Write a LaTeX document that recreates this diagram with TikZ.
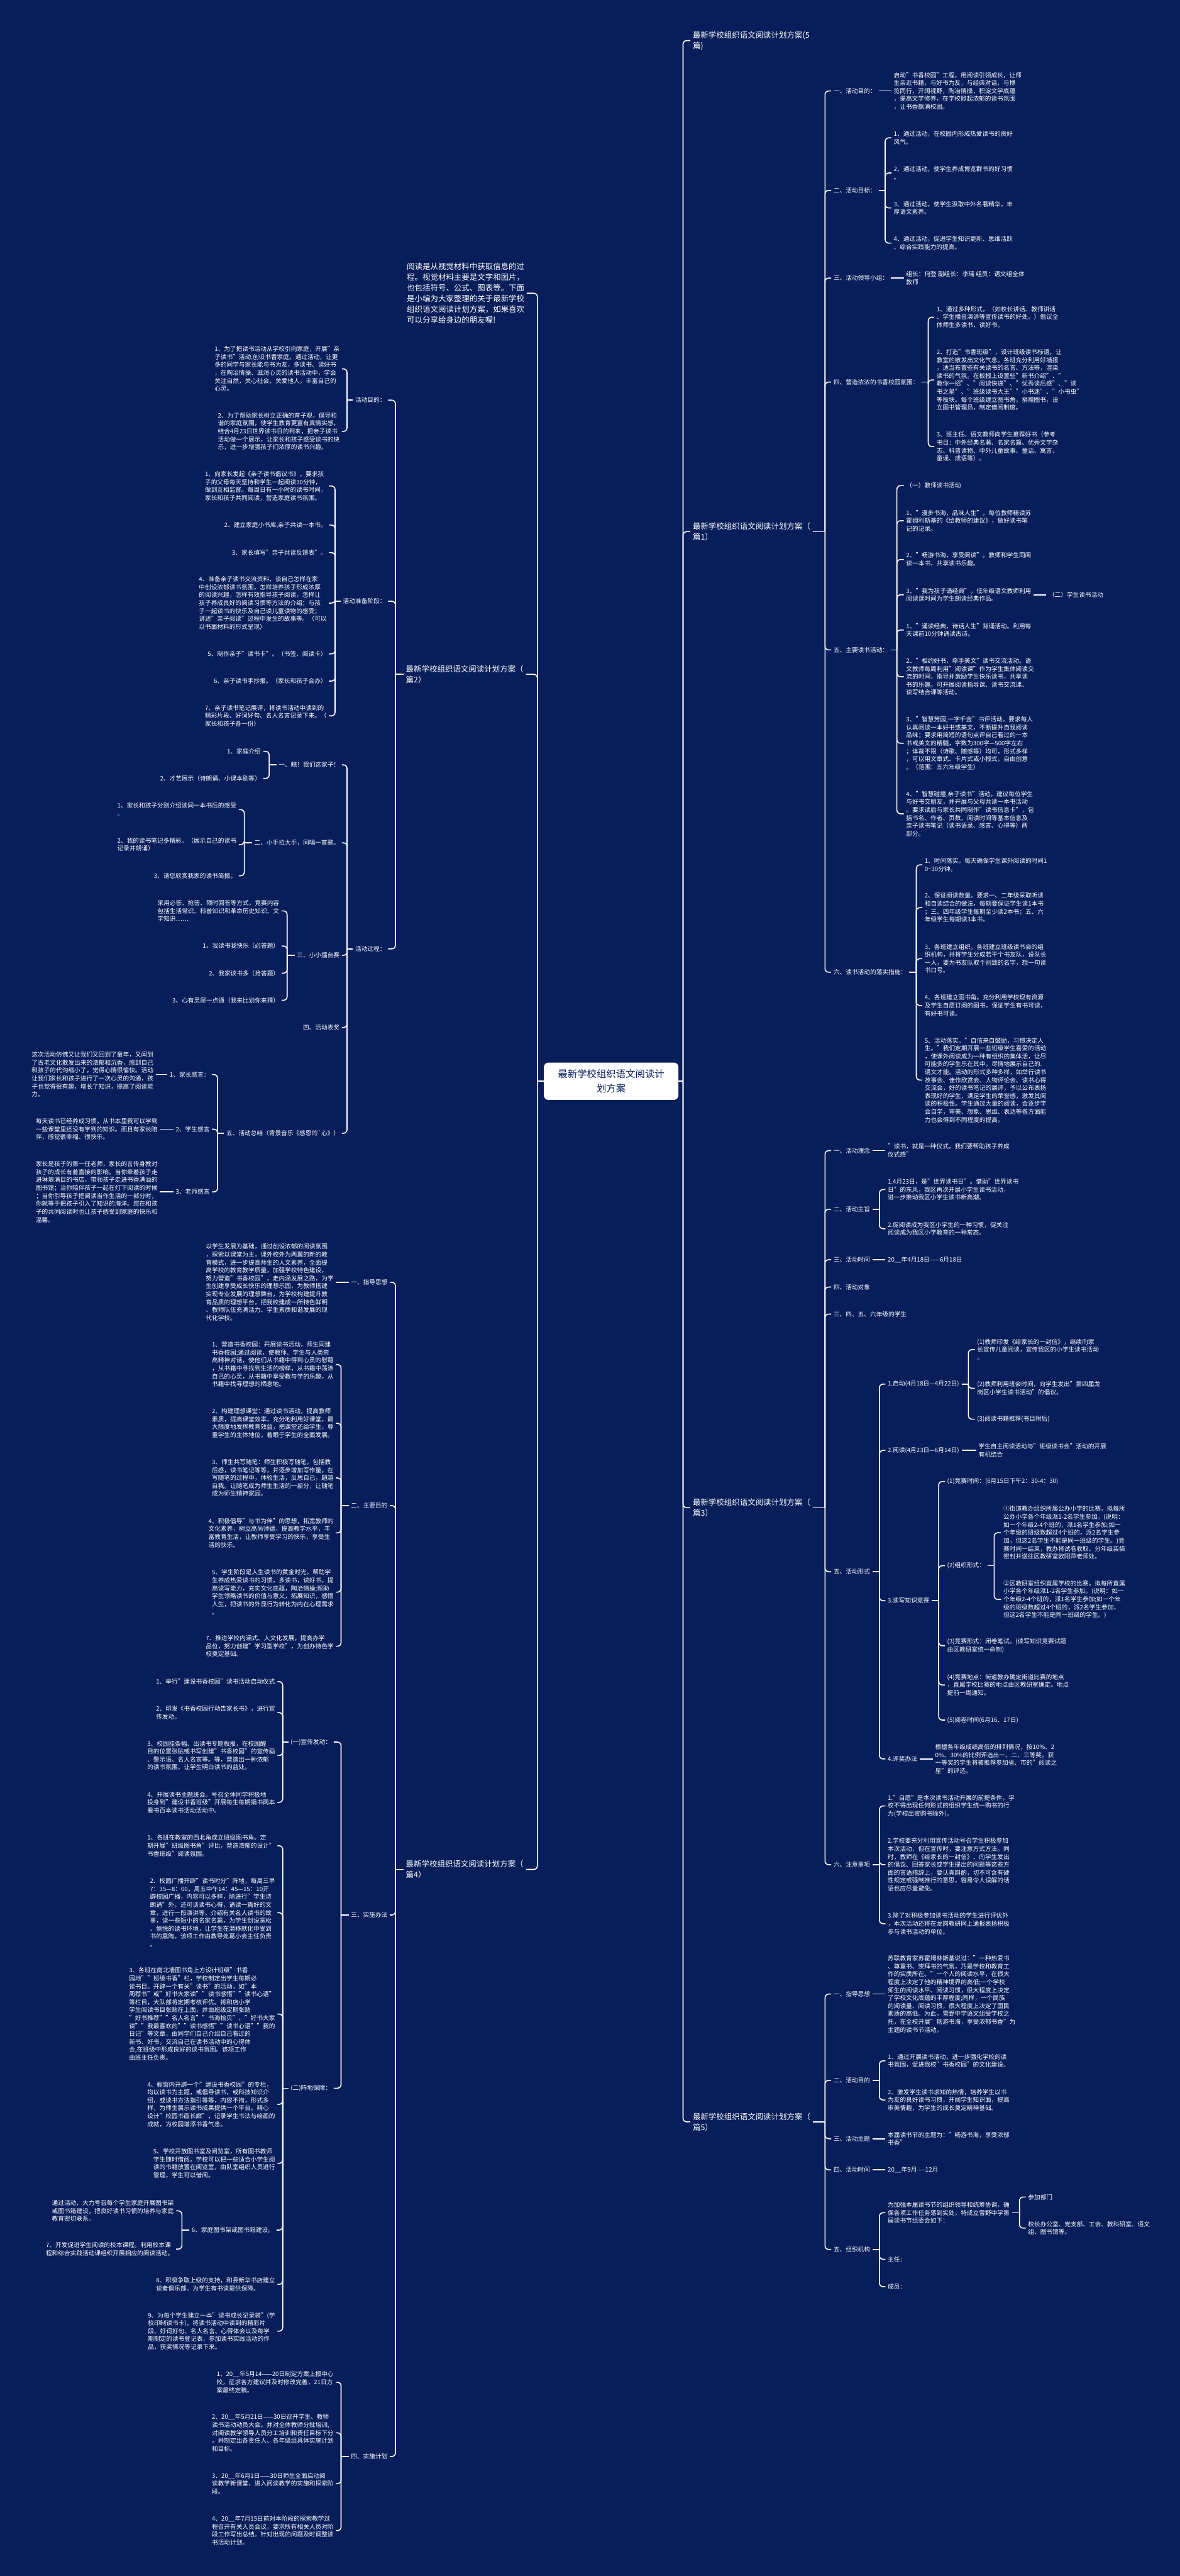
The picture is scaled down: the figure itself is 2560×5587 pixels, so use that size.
\documentclass[tikz,border=0pt]{standalone}
\usepackage{fontspec}
\setmainfont{Noto Sans CJK SC}
\definecolor{bg}{RGB}{8,30,90}
\tikzset{
  conn/.style={draw=white,line width=2.2pt,rounded corners=8pt},
  leafbase/.style={text=white,font=\fontsize{13.2}{17.2}\selectfont,align=left,inner xsep=5pt,inner ysep=2pt},
  rnode/.style={leafbase,anchor=west},
  lnode/.style={leafbase,anchor=east},
  rtitle/.style={rnode,font=\fontsize{17}{23}\selectfont},
  ltitle/.style={lnode,font=\fontsize{17}{23}\selectfont},
  rootbox/.style={fill=white,text=bg,rounded corners=10pt,minimum width=292pt,minimum height=81pt,align=center,font=\fontsize{21}{31}\selectfont,inner sep=0pt},
}
\newcommand{\myrc}[3]{\draw[conn] (#1.east) -- (#1.east -| #3);\draw[conn] (#1.east -| #3) |- (#2.west);}
\newcommand{\mylc}[3]{\draw[conn] (#1.west) -- (#1.west -| #3);\draw[conn] (#1.west -| #3) |- (#2.east);}
\newcommand{\mysr}[2]{\draw[conn] (#1.east) -- (#2.west);}
\newcommand{\mysl}[2]{\draw[conn] (#1.west) -- (#2.east);}
\begin{document}
\begin{tikzpicture}[x=1pt,y=-1pt]
\useasboundingbox (0,0) rectangle (2560,5587);
\fill[bg] (0,0) rectangle (2560,5587);
% bars
\coordinate (xbR) at (1482,0);
\coordinate (xbL) at (1166,0);
\coordinate (xbP) at (1790,0);
\coordinate (xb12) at (1920.5,0);
\coordinate (xb14) at (2014,0);
\coordinate (xb15) at (1946,0);
\coordinate (xb16) at (1988,0);
\coordinate (xb3a) at (1908,0);
\coordinate (xb351) at (2101,0);
\coordinate (xb353) at (2036.6,0);
\coordinate (xb3532) at (2157,0);
\coordinate (xb5a) at (2212,0);
\coordinate (xbL2) at (858,0);
\coordinate (xbb1) at (753,0);
\coordinate (xbb2) at (727,0);
\coordinate (xbb31) at (584,0);
\coordinate (xbb32) at (530,0);
\coordinate (xbb33) at (623,0);
\coordinate (xbb35) at (472,0);
\coordinate (xbd) at (740,0);
\coordinate (xbd3) at (613.4,0);
\coordinate (xbd6) at (394.7,0);

% root
\node[rootbox] (root) at (1326,2345) {最新学校组织语文阅读计\\划方案};

% ===== right side titles
\node[rtitle] (t0) at (1498,88) {最新学校组织语文阅读计划方案(5\\篇)};
\node[rtitle] (p1) at (1498,1153) {最新学校组织语文阅读计划方案（\\篇1）};
\node[rtitle] (p3) at (1498,3270) {最新学校组织语文阅读计划方案（\\篇3）};
\node[rtitle] (p5) at (1498,4602) {最新学校组织语文阅读计划方案（\\篇5）};

% ===== 篇1
\node[rnode] (a1) at (1803.5,197.3) {一、活动目的：};
\node[rnode] (a1x) at (1934,197.3) {启动"书香校园"工程，用阅读引领成长，让师\\生亲近书籍，与好书为友，与经典对话，与博\\览同行，开阔视野，陶冶情操，积淀文学底蕴\\，提高文学修养，在学校掀起浓郁的读书氛围\\，让书香飘满校园。};
\node[rnode] (a2) at (1803.5,412.9) {二、活动目标：};
\node[rnode] (a2a) at (1934,298.9) {1、通过活动，在校园内形成热爱读书的良好\\风气。};
\node[rnode] (a2b) at (1934,375.1) {2、通过活动，使学生养成博览群书的好习惯\\。};
\node[rnode] (a2c) at (1934,451) {3、通过活动，使学生汲取中外名著精华，丰\\厚语文素养。};
\node[rnode] (a2d) at (1934,527.3) {4、通过活动，促进学生知识更新、思维活跃\\、综合实践能力的提高。};
\node[rnode] (a3) at (1803.5,603) {三、活动领导小组：};
\node[rnode] (a3x) at (1961,603) {组长：何登 副组长：李瑶 组员：语文组全体\\教师};
\node[rnode] (a4) at (1803.5,828.7) {四、营造浓浓的书香校园氛围：};
\node[rnode] (a4a) at (2027,687.9) {1、通过多种形式，（如校长讲话、教师讲话\\、学生播音演讲等宣传读书的好处。）倡议全\\体师生多读书，读好书。};
\node[rnode] (a4b) at (2027,824) {2、打造"书香班级"，设计班级读书标语，让\\教室的散发出文化气息。各班充分利用好墙报\\，适当布置些有关读书的名言、方法等，渲染\\读书的气氛。在板报上设置些"新书介绍"、"\\教你一招"、"阅读快递"、"优秀读后感"、"读\\书之星"、"班级读书大王""小书迷"、"小书虫"\\等板块。每个班级建立图书角，捐赠图书，设\\立图书管理员，制定借阅制度。};
\node[rnode] (a4c) at (2027,968.5) {3、班主任、语文教师向学生推荐好书（参考\\书目：中外经典名著、名家名篇、优秀文学杂\\志、科普读物、中外儿童故事、童话、寓言、\\童谣、成语等）。};
\node[rnode] (a5) at (1803.5,1409.6) {五、主要读书活动：};
\node[rnode] (a5a) at (1961,1053.2) {（一）教师读书活动};
\node[rnode] (a5b) at (1961,1129.4) {1、"漫步书海，品味人生"。每位教师精读苏\\霍姆利斯基的《给教师的建议》，做好读书笔\\记的记录。};
\node[rnode] (a5c) at (1961,1213.4) {2、"畅游书海，享受阅读"。教师和学生同阅\\读一本书，共享读书乐趣。};
\node[rnode] (a5d) at (1961,1290) {3、"我为孩子诵经典"。低年级语文教师利用\\阅读课时间为学生朗读经典作品。};
\node[rnode] (a5dx) at (2270,1290) {（二）学生读书活动};
\node[rnode] (a5e) at (1961,1366.4) {1、"诵读经典，诗话人生"背诵活动。利用每\\天课前10分钟诵读古诗。};
\node[rnode] (a5f) at (1961,1467.6) {2、"相约好书，牵手美文"读书交流活动。语\\文教师每周利用"阅读课"作为学生集体阅读交\\流的时间，指导并激励学生快乐读书，共享读\\书的乐趣。可开展阅读指导课、读书交流课、\\读写结合课等活动。};
\node[rnode] (a5g) at (1961,1612) {3、"智慧芳园,一字千金"书评活动。要求每人\\认真阅读一本好书或美文，不断提升自我阅读\\品味；要求用简短的语句点评自己看过的一本\\书或美文的精髓，字数为300字—500字左右\\；体裁不限（诗歌、随感等）均可，形式多样\\，可以用文章式、卡片式或小报式，自由创意\\。（范围：五六年级学生）};
\node[rnode] (a5h) at (1961,1765) {4、"智慧碰撞,亲子读书"活动。建议每位学生\\与好书交朋友，并开展与父母共读一本书活动\\。要求读后与家长共同制作"读书信息卡"，包\\括书名、作者、页数、阅读时间等基本信息及\\亲子读书笔记（读书语录、感言、心得等）两\\部分。};
\node[rnode] (a6) at (1803.5,2108.6) {六、读书活动的落实措施：};
\node[rnode] (a6a) at (2001,1875.7) {1、时间落实。每天确保学生课外阅读的时间1\\0\textasciitilde{}30分钟。};
\node[rnode] (a6b) at (2001,1968.5) {2、保证阅读数量。要求一、二年级采取听读\\和自读结合的做法，每期要保证学生读1本书\\；三、四年级学生每期至少读2本书；五、六\\年级学生每期读3本书。};
\node[rnode] (a6c) at (2001,2079.2) {3、各班建立组织。各班建立班级读书会的组\\织机构，并将学生分成若干个书友队，设队长\\一人，要为书友队取个别致的名字，想一句读\\书口号。};
\node[rnode] (a6d) at (2001,2180.8) {4、各班建立图书角。充分利用学校现有资源\\及学生自愿订阅的图书，保证学生有书可读，\\有好书可读。};
\node[rnode] (a6e) at (2001,2342.5) {5、活动落实。"自信来自鼓励，习惯决定人\\生。"我们定期开展一些班级学生喜爱的活动\\，使课外阅读成为一种有组织的集体活，让尽\\可能多的学生乐在其中，尽情地展示自己的.\\语文才能。活动的形式多种多样，如举行读书\\故事会、佳作欣赏会、人物评论会、读书心得\\交流会，好的读书笔记的展评，予以公布表扬\\表现好的学生，满足学生的荣誉感，激发其阅\\读的积极性。学生通过大量的阅读，会逐步学\\会自学，审美、想象、思维、表达等各方面能\\力也会得到不同程度的提高。};

% ===== 篇3
\node[rnode] (c1) at (1803.5,2495.4) {一、活动理念};
\node[rnode] (c1x) at (1921,2495.4) {"读书，就是一种仪式，我们要帮助孩子养成\\仪式感"};
\node[rnode] (c2) at (1803.5,2622.7) {二、活动主旨};
\node[rnode] (c2a) at (1921,2579.8) {1.4月23日，是"世界读书日"。借助"世界读书\\日"的东风，我区再次开展小学生读书活动，\\进一步推动我区小学生读书新高潮。};
\node[rnode] (c2b) at (1921,2664.9) {2.促阅读成为我区小学生的一种习惯，促关注\\阅读成为我区小学教育的一种常态。};
\node[rnode] (c3) at (1803.5,2732) {三、活动时间};
\node[rnode] (c3x) at (1921,2732) {20\_\_年4月18日——6月18日};
\node[rnode] (c4) at (1803.5,2791.4) {四、活动对象};
\node[rnode] (c4b) at (1803.5,2850) {三、四、五、六年级的学生};
\node[rnode] (c5) at (1803.5,3408.9) {五、活动形式};
\node[rnode] (c51) at (1921,3001.9) {1.启动(4月18日—4月22日)};
\node[rnode] (c51a) at (2115,2927) {(1)教师印发《给家长的一封信》，继续向家\\长宣传儿童阅读，宣传我区的小学生读书活动\\。};
\node[rnode] (c51b) at (2115,3011) {(2)教师利用班会时间，向学生发出"第四届龙\\岗区小学生读书活动"的倡议。};
\node[rnode] (c51c) at (2115,3078.1) {(3)阅读书籍推荐(书目附后)};
\node[rnode] (c52) at (1921,3145.6) {2.阅读(4月23日—6月14日)};
\node[rnode] (c52x) at (2118,3145.6) {学生自主阅读活动与"班级读书会"活动的开展\\有机结合};
\node[rnode] (c53) at (1921,3471.7) {3.读写知识竞赛};
\node[rnode] (c53a) at (2050,3213) {(1)竞赛时间：(6月15日下午2：30-4：30)};
\node[rnode] (c53b) at (2050,3395.7) {(2)组织形式：};
\node[rnode] (c53b1) at (2172,3324.2) {①街道教办组织所属公办小学的比赛。拟每所\\公办小学各个年级派1-2名学生参加。(说明：\\如一个年级2-4个班的，派1名学生参加;如一\\个年级的班级数超过4个班的，派2名学生参\\加，但这2名学生不能是同一班级的学生。)竞\\赛时间一结束，教办将试卷收取、分年级装袋\\密封并送往区教研室欧阳萍老师处。};
\node[rnode] (c53b2) at (2172,3469) {②区教研室组织直属学校的比赛。拟每所直属\\小学各个年级派1-2名学生参加。(说明：如一\\个年级2-4个班的，派1名学生参加;如一个年\\级的班级数超过4个班的，派2名学生参加，\\但这2名学生不能是同一班级的学生。)};
\node[rnode] (c53c) at (2050,3569.3) {(3)竞赛形式：闭卷笔试。(读写知识竞赛试题\\由区教研室统一命制)};
\node[rnode] (c53d) at (2050,3654.5) {(4)竞赛地点：街道教办确定街道比赛的地点\\，直属学校比赛的地点由区教研室确定。地点\\提前一周通知。};
\node[rnode] (c53e) at (2050,3730.6) {(5)阅卷时间(6月16、17日)};
\node[rnode] (c54) at (1921,3815) {4.评奖办法};
\node[rnode] (c54x) at (2024,3815) {根据各年级成绩高低的排列情况，按10\%、2\\0\%、30\%的比例评选出一、二、三等奖。获\\一等奖的学生将被推荐参加省、市的"阅读之\\星"的评选。};
\node[rnode] (c6) at (1803.5,4044.2) {六、注意事项};
\node[rnode] (c6a) at (1921,3916.9) {1."自愿"是本次读书活动开展的前提条件，学\\校不得出现任何形式的组织学生统一购书的行\\为(学校出资购书除外)。};
\node[rnode] (c6b) at (1921,4044.2) {2.学校要充分利用宣传活动号召学生积极参加\\本次活动，但在宣传时，要注意方式方法。同\\时，教师在《给家长的一封信》、向学生发出\\的倡议、回答家长或学生提出的问题等这些方\\面的言语措辞上，要认真斟酌，切不可含有硬\\性规定或强制推行的意思，容易令人误解的话\\语也应尽量避免。};
\node[rnode] (c6c) at (1921,4172.2) {3.除了对积极参加读书活动的学生进行评优外\\，本次活动还将在龙岗教研网上通报表扬积极\\参与读书活动的单位。};

% ===== 篇5
\node[rnode] (e1) at (1803.5,4324.8) {一、指导思想};
\node[rnode] (e1x) at (1921,4324.8) {苏联教育家苏霍姆林斯基说过："一种热爱书\\、尊重书、崇拜书的气氛，乃是学校和教育工\\作的实质所在。"一个人的阅读水平，在很大\\程度上决定了他的精神境界的高低;一个学校\\师生的阅读水平、阅读习惯，很大程度上决定\\了学校文化底蕴的丰厚程度;同样，一个民族\\的阅读量、阅读习惯，很大程度上决定了国民\\素质的高低。为此，雪野中学语文组受学校之\\托，在全校开展"畅游书海，享受浓郁书香"为\\主题的读书节活动。};
\node[rnode] (e2) at (1803.5,4512) {二、活动目的};
\node[rnode] (e2a) at (1921,4469.6) {1、通过开展读书活动，进一步强化学校的读\\书氛围，促进我校"书香校园"的文化建设。};
\node[rnode] (e2b) at (1921,4554.6) {2、激发学生读书求知的热情，培养学生以书\\为友的良好读书习惯，开阔学生知识面，提高\\审美情趣，为学生的成长奠定精神基础。};
\node[rnode] (e3) at (1803.5,4638.6) {三、活动主题};
\node[rnode] (e3x) at (1921,4638.6) {本届读书节的主题为："畅游书海，享受浓郁\\书香"};
\node[rnode] (e4) at (1803.5,4706) {四、活动时间};
\node[rnode] (e4x) at (1921,4706) {20\_\_年9月-{}-{}-{}-12月};
\node[rnode] (e5) at (1803.5,4878.7) {五、组织机构};
\node[rnode] (e5a) at (1921,4799) {为加强本届读书节的组织领导和统筹协调，确\\保各项工作任务落到实处，特成立雪野中学第\\届读书节组委会如下：};
\node[rnode] (e5a1) at (2225.5,4765) {参加部门};
\node[rnode] (e5a2) at (2225.5,4832.4) {校长办公室、党支部、工会、教科研室、语文\\组、图书馆等。};
\node[rnode] (e5b) at (1921,4900) {主任：};
\node[rnode] (e5c) at (1921,4959.4) {成员：};

% ===== left side
\node[ltitle] (intro) at (1143,636) {阅读是从视觉材料中获取信息的过\\程。视觉材料主要是文字和图片，\\也包括符号、公式、图表等。下面\\是小编为大家整理的关于最新学校\\组织语文阅读计划方案，如果喜欢\\可以分享给身边的朋友喔!};
\node[ltitle] (p2) at (1141,1462.4) {最新学校组织语文阅读计划方案（\\篇2）};
\node[ltitle] (p4) at (1141,4054.5) {最新学校组织语文阅读计划方案（\\篇4）};

% 篇2
\node[lnode] (b1) at (842,867.8) {活动目的：};
\node[lnode] (b1a) at (742,800) {1、为了把读书活动从学校引向家庭，开展"亲\\子读书"活动,创设书香家庭。通过活动，让更\\多的同学与家长能与书为友，多读书、读好书\\，在陶冶情操、滋润心灵的读书活动中，学会\\关注自然，关心社会，关爱他人，丰富自己的\\心灵。};
\node[lnode] (b1b) at (742,935.6) {2、为了帮助家长树立正确的育子观，倡导和\\谐的家庭氛围，使学生教育更富有真情实感，\\结合4月23日世界读书日的到来，把亲子读书\\活动做一个展示，让家长和孩子感受读书的快\\乐，进一步增强孩子们浓厚的读书兴趣。};
\node[lnode] (b2) at (842,1304) {活动准备阶段：};
\node[lnode] (b2a) at (714,1054) {1、向家长发起《亲子读书倡议书》，要求孩\\子的父母每天坚持和学生一起阅读30分钟，\\做到互相监督。每周日有一小时的读书时间，\\家长和孩子共同阅读，营造家庭读书氛围。};
\node[lnode] (b2b) at (714,1138.8) {2、建立家庭小书库,亲子共读一本书。};
\node[lnode] (b2c) at (714,1198.5) {3、家长填写"亲子共读反馈表"。};
\node[lnode] (b2d) at (714,1308) {4、准备亲子读书交流资料，谈自己怎样在家\\中创设浓郁读书氛围，怎样培养孩子形成浓厚\\的阅读兴趣，怎样有效指导孩子阅读，怎样让\\孩子养成良好的阅读习惯等方法的介绍；与孩\\子一起读书的快乐及自己读儿童读物的感受；\\讲述"亲子阅读"过程中发生的故事等。（可以\\以书面材料的形式呈现）};
\node[lnode] (b2e) at (714,1418.2) {5、制作亲子"读书卡"。（书签、阅读卡）};
\node[lnode] (b2f) at (714,1477.2) {6、亲子读书手抄报。（家长和孩子合办）};
\node[lnode] (b2g) at (714,1552.6) {7、亲子读书笔记展评，将读书活动中读到的\\精彩片段、好词好句、名人名言记录下来。（\\家长和孩子各一份）};
\node[lnode] (b3) at (842,2058) {活动过程：};
\node[lnode] (b31) at (742,1658.9) {一、瞧！我们这家子！};
\node[lnode] (b31a) at (571,1629.4) {1、家庭介绍};
\node[lnode] (b31b) at (571,1688.3) {2、才艺展示（诗朗诵、小课本剧等）};
\node[lnode] (b32) at (742,1827.9) {二、小手拉大手，同唱一首歌。};
\node[lnode] (b32a) at (518,1756) {1、家长和孩子分别介绍读同一本书后的感受\\。};
\node[lnode] (b32b) at (518,1831.8) {2、我的读书笔记多精彩。（展示自己的读书\\记录并朗诵）};
\node[lnode] (b32c) at (518,1899.5) {3、请您欣赏我家的读书简报。};
\node[lnode] (b33) at (742,2072) {三、小小擂台赛};
\node[lnode] (b33a) at (611,1975.6) {采用必答、抢答、限时回答等方式，竞赛内容\\包括生活常识、科普知识和革命历史知识、文\\学知识……};
\node[lnode] (b33b) at (611,2051.7) {1、我读书我快乐（必答题）};
\node[lnode] (b33c) at (611,2110.6) {2、我家读书多（抢答题）};
\node[lnode] (b33d) at (611,2169.5) {3、心有灵犀一点通（我来比划你来猜）};
\node[lnode] (b34) at (742,2228.5) {四、活动表奖};
\node[lnode] (b35) at (742,2457.9) {五、活动总结（背景音乐《感恩的\textasciigrave{}心》）};
\node[lnode] (b351) at (460,2330.5) {1、家长感言：};
\node[lnode] (b351x) at (338,2330.5) {这次活动仿佛又让我们又回到了童年，又闻到\\了古老文化散发出来的浓郁和沉香，感到自己\\和孩子的代沟缩小了，觉得心情很愉快。活动\\让我们家长和孩子进行了一次心灵的沟通，孩\\子也觉得很有趣，增长了知识，提高了阅读能\\力。};
\node[lnode] (b352) at (460,2449) {2、学生感言};
\node[lnode] (b352x) at (347,2449) {每天读书已经养成习惯，从书本里我可以学到\\一些课堂里还没有学到的知识。而且有家长陪\\伴，感觉很幸福、很快乐。};
\node[lnode] (b353) at (460,2585) {3、老师感言};
\node[lnode] (b353x) at (347,2585) {家长是孩子的第一任老师，家长的言传身教对\\孩子的成长有着直接的影响。当你牵着孩子走\\进琳琅满目的书店，带领孩子走进书香满溢的\\图书馆；当你陪伴孩子一起在灯下阅读的时候\\；当你引导孩子把阅读当作生活的一部分时，\\你就等于把孩子引入了知识的海洋。您在和孩\\子的共同阅读时也让孩子感受到家庭的快乐和\\温馨。};

% 篇4
\node[lnode] (d1) at (846,2781) {一、指导思想};
\node[lnode] (d1x) at (729,2781) {以学生发展为基础，通过创设浓郁的阅读氛围\\，探索以课堂为主，课外校外为两翼的新的教\\育模式，进一步提高师生的人文素养，全面提\\高学校的教育教学质量，加强学校特色建设，\\努力营造"书香校园"，走内涵发展之路，为学\\生创建享受成长快乐的理想乐园，为教师搭建\\实现专业发展的理想舞台，为学校构建提升教\\育品质的理想平台，把我校建成一所特色鲜明\\、教师队伍充满活力、学生素质和谐发展的现\\代化学校。};
\node[lnode] (d2) at (846,3265.4) {二、主要目的};
\node[lnode] (d2a) at (729,2959.3) {1、营造书香校园：开展读书活动，师生同建\\书香校园;通过阅读，使教师、学生与人类崇\\高精神对话，使他们从书籍中得到心灵的慰藉\\，从书籍中寻找到生活的榜样，从书籍中荡涤\\自己的心灵，从书籍中享受教与学的乐趣，从\\书籍中找寻理想的栖息地。};
\node[lnode] (d2b) at (729,3086.9) {2、构建理想课堂：通过读书活动，提高教师\\素质，提高课堂效率，充分地利用好课堂，最\\大限度地发挥教育效益，把课堂还给学生，尊\\重学生的主体地位，着眼于学生的全面发展。};
\node[lnode] (d2c) at (729,3205.4) {3、师生共写随笔：师生积极写随笔，包括教\\后感，读书笔记等等，并逐步增加写作量。在\\写随笔的过程中，体验生活，反思自己，超越\\自我。让随笔成为师生生活的一部分，让随笔\\成为师生精神家园。};
\node[lnode] (d2d) at (729,3324.6) {4、积极倡导"与书为伴"的思想，拓宽教师的\\文化素养，树立高尚师德，提高教学水平，丰\\富教育生活，让教师享受学习的快乐，享受生\\活的快乐。};
\node[lnode] (d2e) at (729,3453.2) {5、学生阶段是人生读书的黄金时光。帮助学\\生养成热爱读书的习惯，多读书，读好书，提\\高读写能力，充实文化底蕴，陶冶情操;帮助\\学生领略读书的价值与意义，拓展知识，感悟\\人生，把读书的外显行为转化为内在心理需求\\。};
\node[lnode] (d2f) at (729,3570.5) {7、推进学校内涵式、人文化发展，提高办学\\品位，努力创建"学习型学校"，为创办特色学\\校奠定基础。};
\node[lnode] (d3) at (846,4153.3) {三、实施办法};
\node[lnode] (d31) at (724,3778.3) {(一)宣传发动：};
\node[lnode] (d31a) at (602,3647.1) {1、举行"建设书香校园"读书活动启动仪式};
\node[lnode] (d31b) at (602,3714.4) {2、印发《书香校园行动告家长书》，进行宣\\传发动。};
\node[lnode] (d31c) at (602,3807.5) {3、校园挂条幅、出读书专题板报，在校园醒\\目的位置张贴或书写创建"书香校园"的宣传画\\、警示语、名人名言等。等，营造出一种浓郁\\的读书氛围，让学生明白读书的益处。};
\node[lnode] (d31d) at (602,3909.2) {4、开展读书主题班会。号召全体同学积极地\\投身到"建设书香班级"开展每生每期捐书两本\\看书百本读书活动活动中。};
\node[lnode] (d32) at (724,4529) {(二)阵地保障：};
\node[lnode] (d32a) at (602,4003) {1、各班在教室的西北角成立班级图书角。定\\期开展"班级图书角"评比，营造浓郁的设计"\\书香班级"阅读氛围。};
\node[lnode] (d32b) at (602,4148.3) {2、校园广播开辟"读书时分"阵地，每周三早\\7：35—8：00，周五中午14：45—15：10开\\辟校园广播，内容可以多样，除进行"学生诗\\朗诵"外，还可谈读书心得，诵读一篇好的文\\章，进行一段演讲等，介绍有关名人读书的故\\事，读一些短小的名家名篇，为学生创设宽松\\、愉悦的读书环境，让学生在潜移默化中受到\\书的熏陶。该项工作由教导处葛小会主任负责\\。};
\node[lnode] (d32c) at (602,4368.2) {3、各班在南北墙图书角上方设计班级"书香\\园地""班级书香"栏，学校制定出学生每期必\\读书目。开辟一个有关"读书"的活动，如"本\\周荐书"或"好书大家读""读书感悟""读书心语"\\等栏目，大队部将定期考核评优。将和店小学\\学生阅读书目张贴在上面，并由班级定期张贴\\"好书推荐""名人名言""书海拾贝"、"好书大家\\读""我最喜欢的""读书感悟""读书心语""我的\\日记"等文章，由同学们自己介绍自己看过的\\新书、好书，交流自己在读书活动中的心得体\\会,在班级中形成良好的读书氛围。该项工作\\由班主任负责。};
\node[lnode] (d32d) at (602,4564) {4、橱窗内开辟一个"建设书香校园"的专栏，\\均以读书为主题，或倡导读书，或科技知识介\\绍，或读书方法指引等等，内容不拘，形式多\\样，为师生展示读书成果提供一个平台。精心\\设计"校园书画长廊"，记录学生书法与绘画的\\成就，为校园增添书香气息。};
\node[lnode] (d32e) at (602,4692) {5、学校开放图书室及阅览室，所有图书教师\\学生随时借阅。学校可以把一些适合小学生阅\\读的书籍放置在阅览室，由队室组织人员进行\\管理，学生可以借阅。};
\node[lnode] (d32f) at (600,4836.7) {6、家庭图书架或图书箱建设。};
\node[lnode] (d32f1) at (382,4795) {通过活动，大力号召每个学生家庭开展图书架\\或图书箱建设，把良好读书习惯的培养与家庭\\教育密切联系。};
\node[lnode] (d32f2) at (382,4878) {7、开发促进学生阅读的校本课程。利用校本课\\程和综合实践活动课组织开展相应的阅读活动。};
\node[lnode] (d32g) at (602,4954.4) {8、积极争取上级的支持，和县新华书店建立\\读者俱乐部。为学生有书读提供保障。};
\node[lnode] (d32h) at (602,5056) {9、为每个学生建立一本"读书成长记录袋"(学\\校印制读书卡)，将读书活动中读到的精彩片\\段、好词好句、名人名言、心得体会以及每学\\期制定的读书登记表，参加读书实践活动的作\\品，获奖情况等记录下来。};
\node[lnode] (d4) at (846,5327.7) {四、实施计划};
\node[lnode] (d4a) at (729,5166.6) {1、20\_\_年5月14——20日制定方案上报中心\\校，征求各方建议并及时修改完善，21日方\\案最终定稿。};
\node[lnode] (d4b) at (729,5276.4) {2、20\_\_年5月21日——30日召开学生、教师\\读书活动动员大会。并对全体教师分批培训,\\对阅读教学领导人员分工培训和责任目标下分\\。并制定出各责任人、各年级组具体实施计划\\和目标。};
\node[lnode] (d4c) at (729,5386.6) {3、20\_\_年6月1日——30日师生全面启动阅\\读教学新课堂，进入阅读教学的实施和探索阶\\段。};
\node[lnode] (d4d) at (729,5488.5) {4、20\_\_年7月15日前对本阶段的探索教学过\\程召开有关人员会议，要求所有相关人员对阶\\段工作写出总结。针对出现的问题及时调整读\\书活动计划。};

% ===== connectors right
\foreach \c in {t0,p1,p3,p5} {\myrc{root}{\c}{xbR}}
\foreach \c in {a1,a2,a3,a4,a5,a6} {\myrc{p1}{\c}{xbP}}
\mysr{a1}{a1x}
\foreach \c in {a2a,a2b,a2c,a2d} {\myrc{a2}{\c}{xb12}}
\mysr{a3}{a3x}
\foreach \c in {a4a,a4b,a4c} {\myrc{a4}{\c}{xb14}}
\foreach \c in {a5a,a5b,a5c,a5d,a5e,a5f,a5g,a5h} {\myrc{a5}{\c}{xb15}}
\mysr{a5d}{a5dx}
\foreach \c in {a6a,a6b,a6c,a6d,a6e} {\myrc{a6}{\c}{xb16}}
\foreach \c in {c1,c2,c3,c4,c4b,c5,c6} {\myrc{p3}{\c}{xbP}}
\mysr{c1}{c1x}
\foreach \c in {c2a,c2b} {\myrc{c2}{\c}{xb3a}}
\mysr{c3}{c3x}
\foreach \c in {c51,c52,c53,c54} {\myrc{c5}{\c}{xb3a}}
\foreach \c in {c51a,c51b,c51c} {\myrc{c51}{\c}{xb351}}
\mysr{c52}{c52x}
\foreach \c in {c53a,c53b,c53c,c53d,c53e} {\myrc{c53}{\c}{xb353}}
\foreach \c in {c53b1,c53b2} {\myrc{c53b}{\c}{xb3532}}
\mysr{c54}{c54x}
\foreach \c in {c6a,c6b,c6c} {\myrc{c6}{\c}{xb3a}}
\foreach \c in {e1,e2,e3,e4,e5} {\myrc{p5}{\c}{xbP}}
\mysr{e1}{e1x}
\foreach \c in {e2a,e2b} {\myrc{e2}{\c}{xb3a}}
\mysr{e3}{e3x}
\mysr{e4}{e4x}
\foreach \c in {e5a,e5b,e5c} {\myrc{e5}{\c}{xb3a}}
\foreach \c in {e5a1,e5a2} {\myrc{e5a}{\c}{xb5a}}

% ===== connectors left
\foreach \c in {intro,p2,p4} {\mylc{root}{\c}{xbL}}
\foreach \c in {b1,b2,b3} {\mylc{p2}{\c}{xbL2}}
\foreach \c in {b1a,b1b} {\mylc{b1}{\c}{xbb1}}
\foreach \c in {b2a,b2b,b2c,b2d,b2e,b2f,b2g} {\mylc{b2}{\c}{xbb2}}
\foreach \c in {b31,b32,b33,b34,b35} {\mylc{b3}{\c}{xbb1}}
\foreach \c in {b31a,b31b} {\mylc{b31}{\c}{xbb31}}
\foreach \c in {b32a,b32b,b32c} {\mylc{b32}{\c}{xbb32}}
\foreach \c in {b33a,b33b,b33c,b33d} {\mylc{b33}{\c}{xbb33}}
\foreach \c in {b351,b352,b353} {\mylc{b35}{\c}{xbb35}}
\mysl{b351}{b351x}
\mysl{b352}{b352x}
\mysl{b353}{b353x}
\foreach \c in {d1,d2,d3,d4} {\mylc{p4}{\c}{xbL2}}
\mysl{d1}{d1x}
\foreach \c in {d2a,d2b,d2c,d2d,d2e,d2f} {\mylc{d2}{\c}{xbd}}
\foreach \c in {d31,d32} {\mylc{d3}{\c}{xbd}}
\foreach \c in {d31a,d31b,d31c,d31d} {\mylc{d31}{\c}{xbd3}}
\foreach \c in {d32a,d32b,d32c,d32d,d32e,d32f,d32g,d32h} {\mylc{d32}{\c}{xbd3}}
\foreach \c in {d32f1,d32f2} {\mylc{d32f}{\c}{xbd6}}
\foreach \c in {d4a,d4b,d4c,d4d} {\mylc{d4}{\c}{xbd}}
\end{tikzpicture}
\end{document}
